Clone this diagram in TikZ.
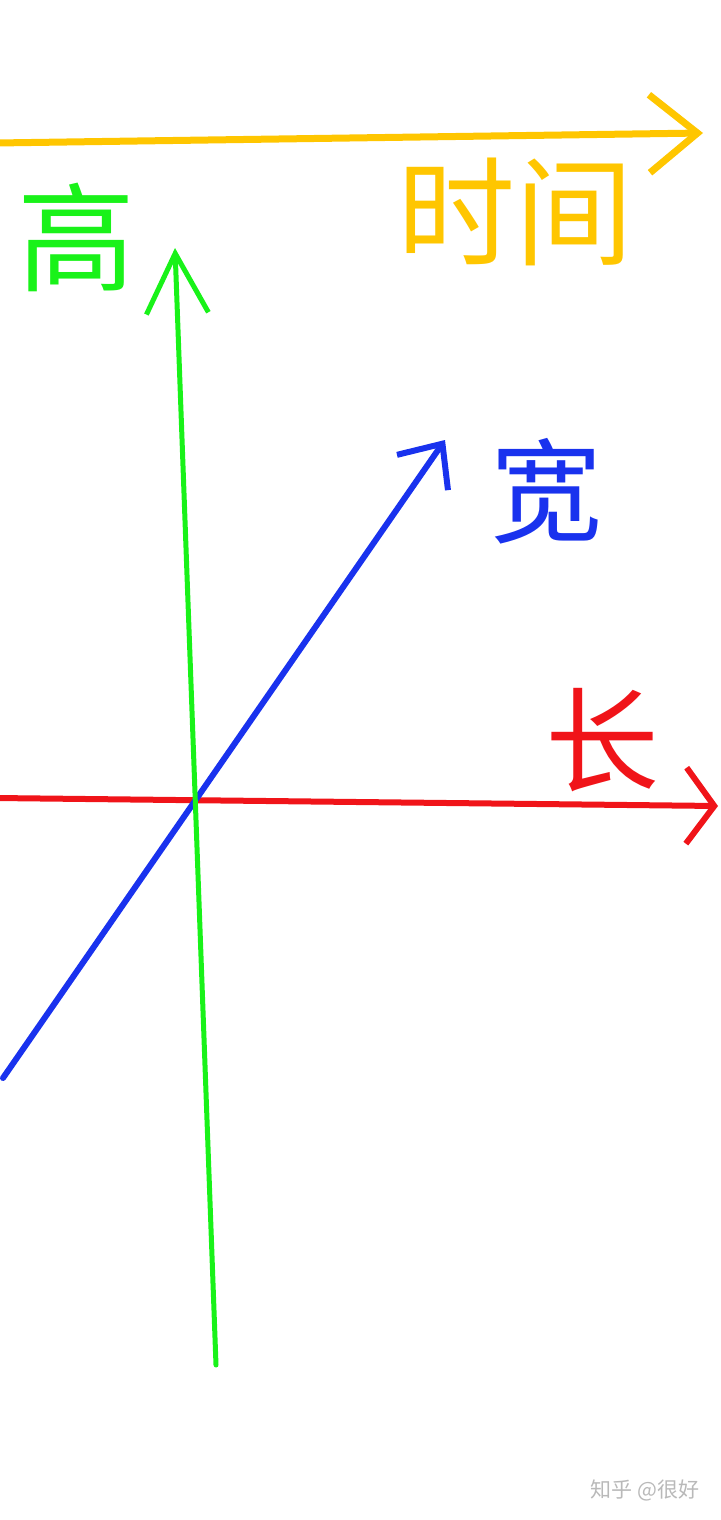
\documentclass[tikz,border=0pt]{standalone}
\usepackage{fontspec}
\newfontfamily\cjk{Noto Sans CJK SC}
\usetikzlibrary{arrows.meta}
\definecolor{timeax}{RGB}{255,198,0}
\definecolor{highax}{RGB}{25,242,25}
\definecolor{wideax}{RGB}{25,50,238}
\definecolor{longax}{RGB}{240,20,25}

\begin{document}
\begin{tikzpicture}[
    x=1pt, y=-1pt,
    axis/.style={line width=6pt, line cap=round},
    lbl/.style={inner sep=0pt, font=\cjk\fontsize{118}{118}\selectfont}
]
\useasboundingbox (0,0) rectangle (720,1520);

% Axis end points
\coordinate (t0) at (-4,143);
\coordinate (t1) at (703,133);
\coordinate (h0) at (216,1365);
\coordinate (h1) at (175,248);
\coordinate (w0) at (3,1078);
\coordinate (w1) at (445,440);
\coordinate (l0) at (-4,798);
\coordinate (l1) at (718,806);

% Axes
\draw[axis, timeax, line width=7pt, -{Straight Barb[length=48pt, width=78pt]}] (t0) -- (t1);
\draw[axis, longax, -{Straight Barb[length=28pt, width=76pt]}] (l0) -- (l1);
\draw[axis, wideax, -{Straight Barb[length=35pt, width=62pt]}] (w0) -- (w1);
\draw[axis, highax, line width=5pt, -{Straight Barb[length=60pt, width=62pt]}] (h0) -- (h1);

% Labels
\node[lbl, text=timeax] (time) at (515,212) {时间};
\node[lbl, text=highax] (high) at (76,237) {高};
\node[lbl, text=wideax, font=\cjk\fontsize{112}{112}\selectfont] (wide) at (546,491) {宽};
\node[lbl, text=longax, font=\cjk\fontsize{114}{114}\selectfont] (long) at (602,740) {长};

% Watermark
\node[inner sep=0pt, text=gray!55, font=\cjk\fontsize{21}{21}\selectfont] (mark) at (645,1490) {知乎 @很好};
\end{tikzpicture}
\end{document}
